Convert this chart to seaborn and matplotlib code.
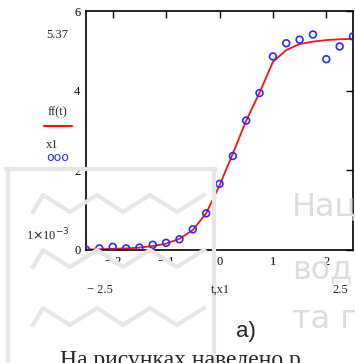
import numpy as np
import pandas as pd
import matplotlib
matplotlib.use("Agg")
import matplotlib.pyplot as plt
from matplotlib.lines import Line2D
import seaborn as sns

# ---- data ----
t_vals = [-2.5, -2.25, -2.0, -1.75, -1.5, -1.25, -1.0, -0.75, -0.5, -0.25,
          0.0, 0.25, 0.5, 0.75, 1.0, 1.25, 1.5, 1.75, 2.0, 2.25, 2.5]
x1_vals = [0.01, 0.04, 0.08, 0.04, 0.06, 0.13, 0.18, 0.27, 0.52, 0.92,
           1.66, 2.36, 3.25, 3.94, 4.86, 5.19, 5.28, 5.41, 4.79, 5.11, 5.36]
ff_vals = [0.01, 0.02, 0.03, 0.04, 0.06, 0.10, 0.16, 0.28, 0.50, 0.92,
           1.62, 2.42, 3.25, 3.95, 4.72, 5.02, 5.17, 5.23, 5.27, 5.29, 5.30]
x_ticks = [-2, -1, 0, 1, 2]
x_tick_labels = ["\u2212 2", "\u2212 1", "0", "1", "2"]
y_ticks = [0, 2, 4, 6]
y_tick_labels = ["0", "2", "4", "6"]

df = pd.DataFrame({"t": t_vals, "x1": x1_vals, "ff": ff_vals})

W, H = 355, 363
fig = plt.figure(figsize=(W / 100, H / 100), dpi=100)
fig.patch.set_facecolor("white")

def fx(px):
    return px / W

def fy(py):
    return 1 - py / H

# ---- watermark decoration (light gray) ----
wm = "#e6e6e6"
fig.add_artist(Line2D([fx(6), fx(215)], [fy(169), fy(169)], color=wm, lw=3))
fig.add_artist(Line2D([fx(8), fx(8)], [fy(169), fy(363)], color=wm, lw=3))
fig.add_artist(Line2D([fx(214), fx(214)], [fy(169), fy(363)], color=wm, lw=3))
for base in (212, 267, 325):
    xs = [33, 43, 70, 97, 123, 150, 177, 204]
    ys = [base, base - 17, base, base - 17, base, base - 17, base, base - 17]
    fig.add_artist(Line2D([fx(v) for v in xs], [fy(v) for v in ys], color=wm, lw=3))
for txt, yy in (("Наці", 207), ("вод", 270), ("та п", 320)):
    fig.text(fx(292), fy(yy), txt, fontsize=23, color="#dddddd",
             family="DejaVu Sans", va="center", ha="left", zorder=0)

# ---- axes ----
sns.set_style("white")
ax = fig.add_axes([fx(86), fy(250), fx(353) - fx(86), fy(11) - fy(250)])
ax.patch.set_alpha(0)

sns.lineplot(data=df, x="t", y="ff", ax=ax, color="#ff1010", lw=1.3, zorder=2)
sns.scatterplot(data=df, x="t", y="x1", ax=ax, marker="o", s=24,
                facecolors="none", edgecolor="#2b2bff", linewidth=1.2, zorder=3)

ax.set_xlim(-2.5, 2.5)
ax.set_ylim(0, 6)
ax.set_xticks(x_ticks)
ax.set_xticklabels(x_tick_labels)
ax.set_yticks(y_ticks)
ax.set_yticklabels(y_tick_labels)
ax.tick_params(direction="in", length=5, width=1, top=True, right=True,
               labelsize=9, pad=4, colors="black")
for lab in ax.get_xticklabels() + ax.get_yticklabels():
    lab.set_family("Liberation Serif")
ax.set_xlabel("")
ax.set_ylabel("")
for s in ax.spines.values():
    s.set_color("black")
    s.set_linewidth(1.2)

serif = "Liberation Serif"
# left-side labels
fig.text(fx(57), fy(35), "5.37", fontsize=9, family=serif, ha="center", va="center")
fig.text(fx(57), fy(112), "ff(t)", fontsize=9, family=serif, ha="center", va="center")
fig.add_artist(Line2D([fx(44), fx(72)], [fy(126), fy(126)], color="#ff1010", lw=1.5))
fig.text(fx(52), fy(145), "x1", fontsize=9, family=serif, ha="center", va="center")
fig.text(fx(58), fy(158), "ooo", fontsize=9, family="DejaVu Sans", color="#2b2bff",
         ha="center", va="center")
fig.text(fx(48), fy(235), r"1$\times$10$^{-3}$", fontsize=9, family=serif,
         ha="center", va="center")

# bottom labels
fig.text(fx(100), fy(290), "\u2212 2.5", fontsize=9, family=serif, ha="center", va="center")
fig.text(fx(220), fy(290), "t,x1", fontsize=9, family=serif, ha="center", va="center")
fig.text(fx(340), fy(290), "2.5", fontsize=9, family=serif, ha="center", va="center")

fig.text(fx(246), fy(332), "а)", fontsize=16, family="Liberation Sans",
         ha="center", va="center")
fig.text(fx(60), fy(350), "На рисунках наведено р", fontsize=17,
         family="Liberation Serif", ha="left", va="top")

fig.savefig("out.png", dpi=100)
